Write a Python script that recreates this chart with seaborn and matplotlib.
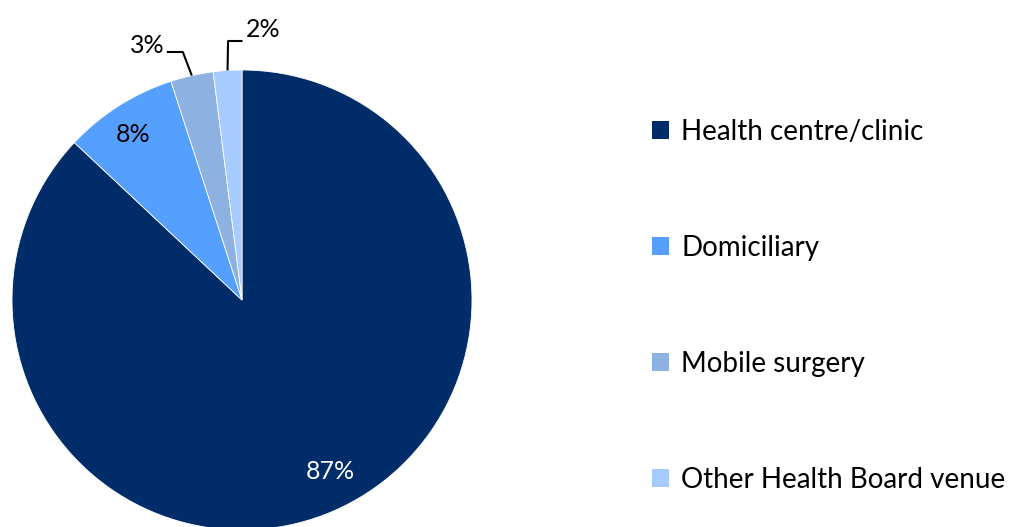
import numpy as np
import matplotlib
matplotlib.use("Agg")
import matplotlib.pyplot as plt
import seaborn as sns
from matplotlib.patches import Patch

categories = ["Health centre/clinic", "Domiciliary", "Mobile surgery", "Other Health Board venue"]
values = [87, 8, 3, 2]
labels = ["87%", "8%", "3%", "2%"]
colors = ["#002D6A", "#559FFF", "#8DB1E0", "#A6CBFF"]

sns.set_theme(style="white")
plt.rcParams["font.family"] = ["Lato", "DejaVu Sans"]

W, H = 1012, 527
fig = plt.figure(figsize=(W / 100, H / 100), dpi=100)
ax = fig.add_axes([0, 0, 1, 1])

cx, cy, R = 242, 227, 230
wedges, _ = ax.pie(values, colors=colors, startangle=90, counterclock=False,
                   center=(cx, cy), radius=R, frame=True,
                   wedgeprops=dict(linewidth=0.6, edgecolor="white"))
ax.set_xlim(0, W)
ax.set_ylim(0, H)
ax.set_aspect("equal")
ax.axis("off")

fs = 18
# inside labels (angle offset, radial fraction)
for i, txtcol, dang, rf in [(0, "white", 3.7, 0.84), (1, "black", 1.0, 0.86)]:
    w = wedges[i]
    mid = np.deg2rad((w.theta1 + w.theta2) / 2 + dang)
    r = rf * R
    ax.text(cx + r * np.cos(mid), cy + r * np.sin(mid), labels[i], color=txtcol,
            fontsize=fs, ha="center", va="center")

# outside labels with elbow leaders
def edge(w):
    mid = np.deg2rad((w.theta1 + w.theta2) / 2)
    return cx + R * np.cos(mid), cy + R * np.sin(mid)

ex, ey = edge(wedges[2])
pts = [(ex, ey), (ex - 9, 475), (ex - 25, 475)]
ax.plot([p[0] for p in pts], [p[1] for p in pts], color="black", lw=1.5, solid_capstyle="butt")
ax.text(ex - 27, 482, labels[2], fontsize=fs, ha="right", va="center", color="black")

ex, ey = edge(wedges[3])
pts = [(ex, ey), (ex + 0.5, 486), (ex + 15, 486)]
ax.plot([p[0] for p in pts], [p[1] for p in pts], color="black", lw=1.5, solid_capstyle="butt")
ax.text(ex + 18, 498, labels[3], fontsize=fs, ha="left", va="center", color="black")

lfs = 20
handles = [Patch(facecolor=c, edgecolor="none") for c in colors]
leg = ax.legend(handles, categories, loc="upper left", bbox_to_anchor=(652 / W, 1 - 119 / H),
                frameon=False, fontsize=lfs, handlelength=0.62, handleheight=0.62,
                handletextpad=0.43, labelspacing=3.24, borderaxespad=0, borderpad=0)
for t in leg.get_texts():
    t.set_color("black")

fig.savefig("out.png", dpi=100)
